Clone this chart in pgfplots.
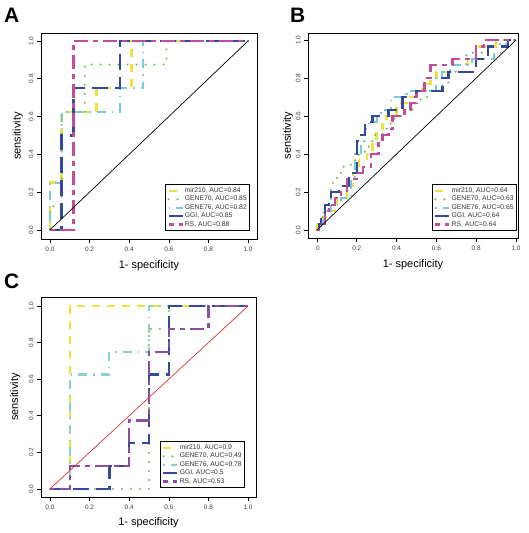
\documentclass[border=0pt]{standalone}
\usepackage{pgfplots}
\pgfplotsset{compat=1.18}
\usepackage{fontspec}
\setmainfont{Liberation Sans}
\definecolor{cY}{RGB}{236,228,60}
\definecolor{cG}{RGB}{104,186,72}
\definecolor{cC}{RGB}{122,202,216}
\definecolor{cB}{RGB}{52,72,158}
\definecolor{cM}{RGB}{196,76,158}
\definecolor{cP}{RGB}{138,78,162}
\definecolor{cC2}{RGB}{140,208,204}
\definecolor{cR}{RGB}{220,50,50}
\pgfplotsset{
 sY/.style={color=cY, line width=2.4bp, dash pattern=on 8bp off 7bp},
 sG/.style={color=cG, line width=2.2bp, line cap=round, dash pattern=on 0bp off 9bp},
 sC/.style={color=cC, line width=2.2bp, dash pattern=on 1.5bp off 6bp on 9bp off 6bp},
 sB/.style={color=cB, line width=2.4bp, dash pattern=on 16bp off 7bp},
 sM/.style={color=cM, line width=2.4bp, dash pattern=on 5bp off 5bp on 14bp off 5bp},
 roc/.style={
  scale only axis,
  axis line style={line width=0.9bp},
  tick align=outside, major tick length=4bp,
  xtick pos=bottom, ytick pos=left,
  tick style={black, line width=0.6bp},
  xtick={0,0.2,0.4,0.6,0.8,1}, ytick={0,0.2,0.4,0.6,0.8,1},
  xticklabel style={font=\fontsize{6.5}{7}\selectfont, text=black!75},
  yticklabel style={font=\fontsize{6.5}{7}\selectfont, text=black!75, rotate=90, anchor=south},
  /pgf/number format/.cd, fixed, fixed zerofill, precision=1, assume math mode=true, /pgfplots/.cd,
  xlabel={1- specificity}, ylabel={sensitivity},
  label style={font=\fontsize{11}{13}\selectfont},
  xlabel style={at={(axis description cs:0.5,-0.13)}, anchor=center},
  legend style={draw=black, line width=0.8bp, font=\fontsize{6.8}{7.5}\selectfont, text=black!80, anchor=south east, inner sep=1.8bp, nodes={inner sep=1.1bp}},
  legend cell align=left,
  legend image code/.code={\draw[##1] (0bp,0bp) -- (14bp,0bp);},
  no marks,
 },
}
\begin{document}
\begin{tikzpicture}
\useasboundingbox (0,0) rectangle (529bp,-533bp);
\node[font=\fontsize{21}{21}\selectfont\bfseries, anchor=base west, inner sep=0] at (4bp,-22bp) {A};
\node[font=\fontsize{21}{21}\selectfont\bfseries, anchor=base west, inner sep=0] at (290bp,-22bp) {B};
\node[font=\fontsize{21}{21}\selectfont\bfseries, anchor=base west, inner sep=0] at (4bp,-288bp) {C};
% ---------------- A
\begin{axis}[roc, at={(41bp,-239bp)}, anchor=south west, width=216bp, height=206bp,
  xmin=-0.045, xmax=1.045, ymin=-0.048, ymax=1.042,
  ylabel style={at={(axis description cs:-0.108,0.5)}, anchor=center},
  legend style={at={(0.968,0.039)}}]
\addplot[sY] coordinates {(0,0) (0,0.25) (0.059,0.25) (0.059,0.625) (0.235,0.625) (0.235,0.75) (0.412,0.75) (0.412,1) (1,1)};
\addlegendentry{mir210, AUC=0.84}
\addplot[sG] coordinates {(0,0) (0,0.125) (0.059,0.125) (0.059,0.625) (0.176,0.625) (0.176,0.875) (0.588,0.875) (0.588,1) (1,1)};
\addlegendentry{GENE70, AUC=0.85}
\addplot[sC] coordinates {(0,0) (0,0.25) (0.059,0.25) (0.059,0.625) (0.353,0.625) (0.353,0.75) (0.47,0.75) (0.47,1) (1,1)};
\addlegendentry{GENE76, AUC=0.82}
\addplot[sB] coordinates {(0,0) (0.059,0) (0.059,0.5) (0.118,0.5) (0.118,0.75) (0.353,0.75) (0.353,1) (1,1)};
\addlegendentry{GGI, AUC=0.85}
\addplot[sM] coordinates {(0,0) (0.118,0) (0.118,1) (1,1)};
\addlegendentry{RS, AUC=0.88}
\addplot[black, line width=0.7bp, solid, forget plot] coordinates {(0,0) (1,1)};
\end{axis}
% ---------------- B
\begin{axis}[roc, at={(308bp,-238bp)}, anchor=south west, width=210bp, height=205bp,
  xmin=-0.045, xmax=1.01, ymin=-0.042, ymax=1.037,
  xticklabels={.0,0.2,0.4,0.6,0.8,1.0},
  ylabel style={at={(axis description cs:-0.095,0.5)}, anchor=center},
  legend style={at={(0.995,0.034)}}]
\addplot[sY] coordinates {(0,0) (0,0.033) (0.03,0.033) (0.03,0.067) (0.06,0.067) (0.06,0.1) (0.1,0.1) (0.1,0.167) (0.15,0.167) (0.15,0.233) (0.18,0.233) (0.18,0.3) (0.21,0.3) (0.21,0.367) (0.25,0.367) (0.25,0.4) (0.28,0.4) (0.28,0.467) (0.3,0.467) (0.3,0.533) (0.33,0.533) (0.33,0.567) (0.35,0.567) (0.35,0.6) (0.4,0.6) (0.4,0.667) (0.46,0.667) (0.46,0.7) (0.5,0.7) (0.5,0.733) (0.53,0.733) (0.53,0.767) (0.57,0.767) (0.57,0.8) (0.6,0.8) (0.6,0.833) (0.68,0.833) (0.68,0.867) (0.76,0.867) (0.76,0.9) (0.8,0.9) (0.8,0.967) (0.9,0.967) (0.9,1) (1,1)};
\addlegendentry{mir210, AUC=0.64}
\addplot[sG] coordinates {(0,0) (0.02,0) (0.02,0.067) (0.04,0.067) (0.04,0.1) (0.07,0.1) (0.07,0.233) (0.08,0.233) (0.08,0.267) (0.1,0.267) (0.1,0.3) (0.13,0.3) (0.13,0.333) (0.17,0.333) (0.17,0.367) (0.21,0.367) (0.21,0.4) (0.24,0.4) (0.24,0.433) (0.26,0.433) (0.26,0.467) (0.28,0.467) (0.28,0.5) (0.33,0.5) (0.33,0.533) (0.37,0.533) (0.37,0.567) (0.39,0.567) (0.39,0.6) (0.43,0.6) (0.43,0.633) (0.48,0.633) (0.48,0.667) (0.52,0.667) (0.52,0.7) (0.56,0.7) (0.56,0.733) (0.63,0.733) (0.63,0.767) (0.66,0.767) (0.66,0.833) (0.7,0.833) (0.7,0.867) (0.75,0.867) (0.75,0.933) (0.84,0.933) (0.84,0.967) (0.92,0.967) (0.92,1) (1,1)};
\addlegendentry{GENE70, AUC=0.63}
\addplot[sC] coordinates {(0,0) (0.02,0) (0.02,0.033) (0.03,0.033) (0.03,0.1) (0.07,0.1) (0.07,0.133) (0.12,0.133) (0.12,0.167) (0.17,0.167) (0.17,0.267) (0.19,0.267) (0.19,0.4) (0.22,0.4) (0.22,0.467) (0.24,0.467) (0.24,0.533) (0.26,0.533) (0.26,0.567) (0.3,0.567) (0.3,0.6) (0.32,0.6) (0.32,0.633) (0.37,0.633) (0.37,0.7) (0.45,0.7) (0.45,0.733) (0.6,0.733) (0.6,0.8) (0.63,0.8) (0.63,0.833) (0.67,0.833) (0.67,0.867) (0.78,0.867) (0.78,0.9) (0.89,0.9) (0.89,0.933) (0.93,0.933) (0.93,0.967) (0.95,0.967) (0.95,1) (1,1)};
\addlegendentry{GENE76, AUC=0.65}
\addplot[sB] coordinates {(0,0) (0.01,0) (0.01,0.033) (0.02,0.033) (0.02,0.067) (0.04,0.067) (0.04,0.133) (0.06,0.133) (0.06,0.167) (0.07,0.167) (0.07,0.2) (0.11,0.2) (0.11,0.233) (0.16,0.233) (0.16,0.3) (0.2,0.3) (0.2,0.467) (0.22,0.467) (0.22,0.5) (0.24,0.5) (0.24,0.567) (0.28,0.567) (0.28,0.6) (0.36,0.6) (0.36,0.633) (0.43,0.633) (0.43,0.7) (0.5,0.7) (0.5,0.733) (0.63,0.733) (0.63,0.8) (0.66,0.8) (0.66,0.833) (0.8,0.833) (0.8,0.9) (0.86,0.9) (0.86,0.967) (0.96,0.967) (0.96,1) (1,1)};
\addlegendentry{GGI, AUC=0.64}
\addplot[sM] coordinates {(0,0) (0.01,0) (0.01,0.033) (0.04,0.033) (0.04,0.1) (0.06,0.1) (0.06,0.133) (0.09,0.133) (0.09,0.167) (0.12,0.167) (0.12,0.2) (0.15,0.2) (0.15,0.267) (0.2,0.267) (0.2,0.3) (0.23,0.3) (0.23,0.333) (0.27,0.333) (0.27,0.4) (0.31,0.4) (0.31,0.467) (0.33,0.467) (0.33,0.5) (0.36,0.5) (0.36,0.533) (0.38,0.533) (0.38,0.6) (0.44,0.6) (0.44,0.633) (0.47,0.633) (0.47,0.667) (0.5,0.667) (0.5,0.733) (0.54,0.733) (0.54,0.8) (0.57,0.8) (0.57,0.867) (0.68,0.867) (0.68,0.9) (0.8,0.9) (0.8,0.967) (0.84,0.967) (0.84,1) (1,1)};
\addlegendentry{RS, AUC=0.64}
\addplot[black, line width=0.7bp, solid, forget plot] coordinates {(0,0) (1,1)};
\end{axis}
% ---------------- C
\begin{axis}[roc, at={(41bp,-497bp)}, anchor=south west, width=215bp, height=200bp,
  xmin=-0.045, xmax=1.04, ymin=-0.044, ymax=1.049,
  ylabel style={at={(axis description cs:-0.12,0.5)}, anchor=center},
  legend style={at={(0.949,0.045)}}]
\addplot[sY] coordinates {(0,0) (0.1,0) (0.1,1) (1,1)};
\addlegendentry{mir210, AUC=0.9}
\addplot[sG] coordinates {(0,0) (0.5,0) (0.5,0.875) (0.6,0.875) (0.6,1) (1,1)};
\addlegendentry{GENE70, AUC=0.49}
\addplot[sC, color=cC2] coordinates {(0,0) (0.1,0) (0.1,0.625) (0.3,0.625) (0.3,0.75) (0.5,0.75) (0.5,1) (1,1)};
\addlegendentry{GENE76, AUC=0.78}
\addplot[sB] coordinates {(0,0) (0.3,0) (0.3,0.125) (0.4,0.125) (0.4,0.25) (0.5,0.25) (0.5,0.625) (0.6,0.625) (0.6,1) (1,1)};
\addlegendentry{GGI, AUC=0.5}
\addplot[sM, color=cP] coordinates {(0,0) (0.1,0) (0.1,0.125) (0.4,0.125) (0.4,0.375) (0.5,0.375) (0.5,0.75) (0.6,0.75) (0.6,0.875) (0.8,0.875) (0.8,1) (1,1)};
\addlegendentry{RS, AUC=0.53}
\addplot[cR, line width=0.7bp, solid, forget plot] coordinates {(0,0) (1,1)};
\end{axis}
\end{tikzpicture}
\end{document}
